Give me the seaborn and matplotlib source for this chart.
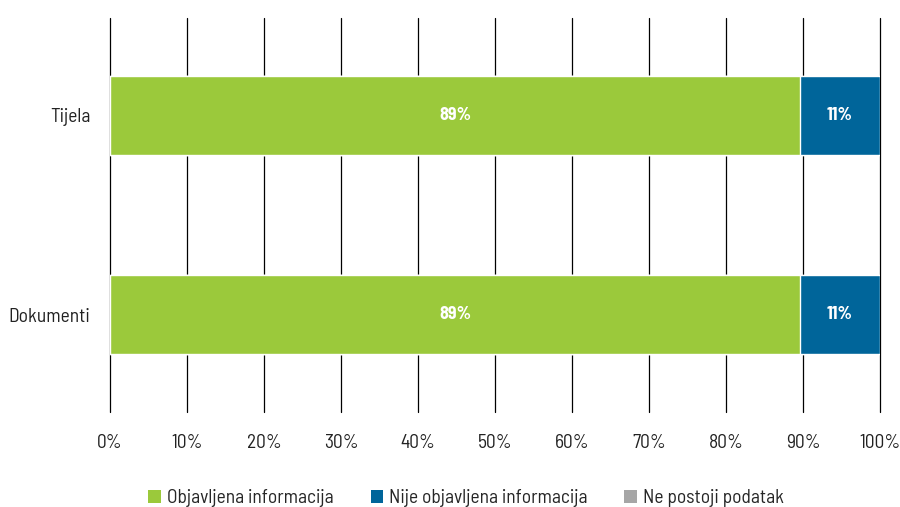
import matplotlib
matplotlib.use('Agg')
from matplotlib import pyplot as plt
from matplotlib.patches import Patch
import seaborn as sns
import pandas as pd

# podaci
kategorije = ['Tijela', 'Dokumenti']
objavljena = [89.6, 89.6]
nije_objavljena = [10.4, 10.4]
ne_postoji = [0, 0]
oznake_obj = ['89%', '89%']
oznake_nije = ['11%', '11%']
serije = ['Objavljena informacija', 'Nije objavljena informacija', 'Ne postoji podatak']
boje = ['#9BC93B', '#00659A', '#A6A6A6']
x_ticks = list(range(0, 101, 10))

sns.set_theme(style='white')
plt.rcParams['font.family'] = ['Barlow Semi Condensed', 'DejaVu Sans']

df = pd.DataFrame({'kategorija': kategorije,
                   'o': objavljena, 'n': nije_objavljena, 'p': ne_postoji})
# kumulativne vrijednosti za slaganje
df['c1'] = df['o']
df['c2'] = df['o'] + df['n']
df['c3'] = df['c2'] + df['p']

fig, ax = plt.subplots(figsize=(9, 5.07), dpi=100)
fig.subplots_adjust(left=0.1222, right=0.9778, top=0.965, bottom=0.187)

for col, boja in zip(['c3', 'c2', 'c1'], boje[::-1]):
    sns.barplot(data=df, y='kategorija', x=col, color=boja, orient='h',
                width=0.4, ax=ax, saturation=1, zorder=3)

# linije mreže
for t in x_ticks:
    ax.axvline(t, color='black', lw=0.9, zorder=1, clip_on=False)

# oznake unutar traka
for i in range(len(kategorije)):
    ax.text(objavljena[i] / 2, i, oznake_obj[i], color='white',
            ha='center', va='center', fontsize=13, fontweight='bold', zorder=4)
    ax.text(objavljena[i] + nije_objavljena[i] / 2, i, oznake_nije[i],
            color='white', ha='center', va='center', fontsize=13, fontweight='bold', zorder=4)

ax.set_xlim(0, 100)
ax.set_ylim(1.49, -0.49)
ax.set_xticks(x_ticks)
ax.set_xticklabels([f'{t}%' for t in x_ticks], fontsize=14, color='#222222')
ax.tick_params(axis='x', length=0, pad=16)
ax.tick_params(axis='y', length=0, pad=14, labelsize=14, labelcolor='#222222')
ax.set_xlabel('')
ax.set_ylabel('')
for s in ['top', 'right', 'bottom', 'left']:
    ax.spines[s].set_visible(False)

handles = [Patch(facecolor=b, edgecolor='none') for b in boje]
fig.legend(handles, serije, loc='lower center', ncol=3, frameon=False,
           bbox_to_anchor=(0.518, -0.035), fontsize=14, handlelength=0.65,
           handleheight=0.65, handletextpad=0.3, columnspacing=1.9)

plt.savefig('out.png', dpi=100)
